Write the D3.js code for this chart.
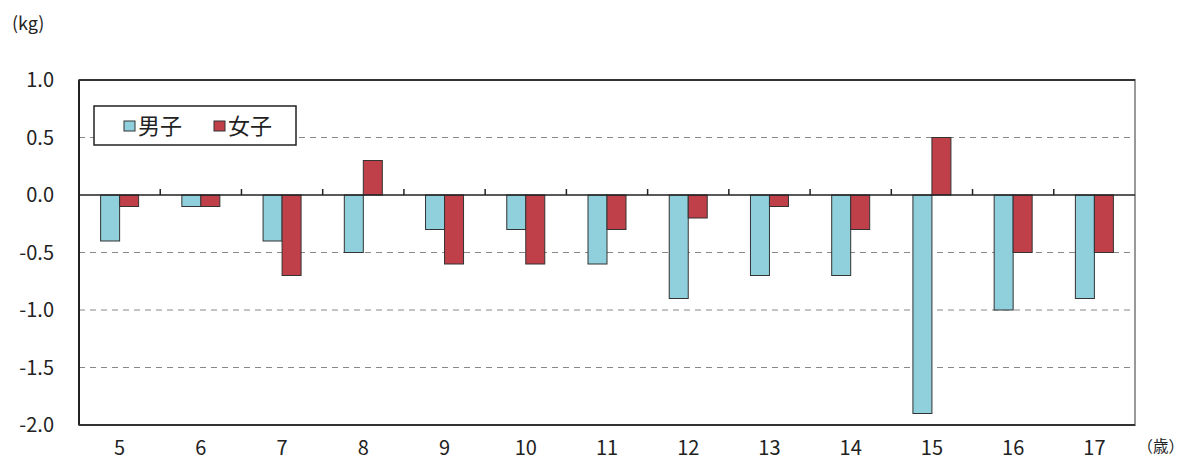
<!DOCTYPE html>
<html><head><meta charset="utf-8">
<script src="https://cdn.jsdelivr.net/npm/d3@7"></script>
<style>body{margin:0;background:#fff}svg{display:block}text{font-family:"Noto Sans CJK JP","Noto Sans",sans-serif;fill:#222}</style>
</head><body>
<script>
const categories = ["5","6","7","8","9","10","11","12","13","14","15","16","17"];
const maleValues = [-0.4,-0.1,-0.4,-0.5,-0.3,-0.3,-0.6,-0.9,-0.7,-0.7,-1.9,-1.0,-0.9];
const femaleValues = [-0.1,-0.1,-0.7,0.3,-0.6,-0.6,-0.3,-0.2,-0.1,-0.3,0.5,-0.5,-0.5];
const seriesNames = ["男子","女子"];
const yTicks = [1.0,0.5,0.0,-0.5,-1.0,-1.5,-2.0];
const colors = ["#8fd0dc","#c0404a"];

const W=1187,H=466;
const svg=d3.select("body").append("svg").attr("width",W).attr("height",H);
const L=79,R=1135,T=80,B=425;
const x=d3.scaleBand().domain(categories).range([L,R]).paddingInner(0).paddingOuter(0);
const y=d3.scaleLinear().domain([-2,1]).range([B,T]);
const bw=19;

// grid
svg.append("g").selectAll("line").data(yTicks.filter(d=>d!==0&&d!==1&&d!==-2)).join("line")
  .attr("x1",L).attr("x2",R).attr("y1",d=>y(d)).attr("y2",d=>y(d))
  .attr("stroke","#888").attr("stroke-width",1).attr("stroke-dasharray","6,5");

// frame
svg.append("rect").attr("x",L).attr("y",T).attr("width",R-L).attr("height",B-T)
  .attr("fill","none").attr("stroke","#999").attr("stroke-width",2);
svg.append("line").attr("x1",L).attr("x2",L).attr("y1",T).attr("y2",B).attr("stroke","#222").attr("stroke-width",2);
svg.append("line").attr("x1",L).attr("x2",R).attr("y1",B).attr("y2",B).attr("stroke","#333").attr("stroke-width",2);
svg.append("line").attr("x1",L).attr("x2",R).attr("y1",T).attr("y2",T).attr("stroke","#333").attr("stroke-width",2);

// bars
const data=categories.map((c,i)=>({c,m:maleValues[i],f:femaleValues[i]}));
const g=svg.append("g");
g.selectAll(".m").data(data).join("rect")
  .attr("x",d=>x(d.c)+x.bandwidth()/2-bw).attr("width",bw)
  .attr("y",d=>y(Math.max(0,d.m))).attr("height",d=>Math.abs(y(d.m)-y(0)))
  .attr("fill",colors[0]).attr("stroke","#333").attr("stroke-width",1);
g.selectAll(".f").data(data).join("rect")
  .attr("x",d=>x(d.c)+x.bandwidth()/2).attr("width",bw)
  .attr("y",d=>y(Math.max(0,d.f))).attr("height",d=>Math.abs(y(d.f)-y(0)))
  .attr("fill",colors[1]).attr("stroke","#333").attr("stroke-width",1);

// zero axis
svg.append("line").attr("x1",L).attr("x2",R).attr("y1",y(0)).attr("y2",y(0)).attr("stroke","#222").attr("stroke-width",1.5);
svg.append("g").selectAll("line").data(categories.slice(1)).join("line")
  .attr("x1",d=>x(d)).attr("x2",d=>x(d)).attr("y1",y(0)).attr("y2",y(0)-6)
  .attr("stroke","#222").attr("stroke-width",1.5);

// y labels
svg.append("g").selectAll("text").data(yTicks).join("text")
  .attr("x",54).attr("y",d=>y(d)).attr("dy","0.35em").attr("text-anchor","end")
  .attr("font-size",20).text(d=>d.toFixed(1));
// x labels
svg.append("g").selectAll("text").data(categories).join("text")
  .attr("x",d=>x(d)+x.bandwidth()/2).attr("y",455).attr("text-anchor","middle")
  .attr("font-size",20).text(d=>d);
svg.append("text").attr("x",1184).attr("y",452).attr("text-anchor","end").attr("font-size",15.5).text("（歳）");
svg.append("text").attr("x",12).attr("y",30).attr("font-size",18).text("(kg)");

// legend
const lg=svg.append("g");
lg.append("rect").attr("x",94).attr("y",106).attr("width",202).attr("height",39).attr("fill","#fff").attr("stroke","#222").attr("stroke-width",1.5);
seriesNames.forEach((n,i)=>{
  const lx=124+i*90;
  lg.append("rect").attr("x",lx).attr("y",121).attr("width",11).attr("height",10).attr("fill",colors[i]).attr("stroke","#333").attr("stroke-width",1);
  lg.append("text").attr("x",lx+14).attr("y",126).attr("dy","0.35em").attr("font-size",22).text(n);
});
</script>
</body></html>
